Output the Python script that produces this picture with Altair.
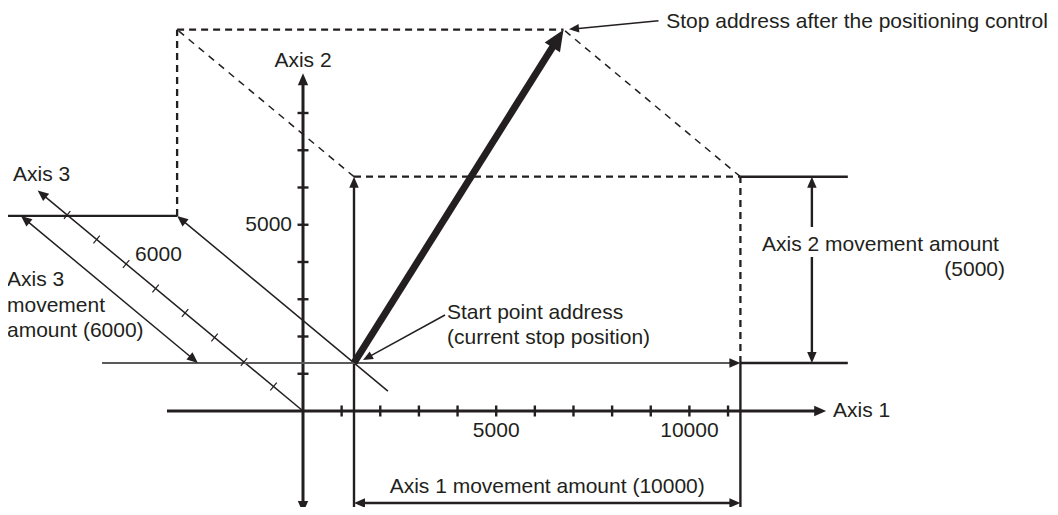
import math
import altair as alt
import pandas as pd

# ---------------- diagram values (axis units) ----------------
AXIS1_TICKS = [1000, 2000, 3000, 4000, 5000, 6000, 7000, 8000, 9000, 10000, 11000]
AXIS1_TICK_LABELS = [5000, 10000]
AXIS2_TICKS = [1000, 2000, 3000, 4000, 5000, 6000, 7000, 8000]
AXIS2_TICK_LABELS = [5000]
AXIS3_TICKS = [1000, 2000, 3000, 4000, 5000, 6000, 7000, 8000]
AXIS3_TICK_LABELS = [6000]

START_ADDRESS = [1320, 1290, 0]          # axis 1, axis 2, axis 3
MOVEMENT_AMOUNT = [10000, 5000, 6000]    # axis 1, axis 2, axis 3

AXIS1_EXTENT = [-3520, 13540]
AXIS2_EXTENT = [-2740, 9070]
AXIS3_EXTENT = [0, 9000]
START_DIAG_BACK = -1150        # axis-3 extension of the start diagonal below the start point
GUIDE_LEFT = -5200             # left end of the start-level guide line (axis 1 units)
BACK_GUIDE_LEFT = -3080        # left end of the axis-3 end-level guide line
DIM1_LEVEL = -2470             # axis 2 level of the axis-1 dimension arrow
DIM2_POS = 13170               # axis 1 position of the axis-2 dimension arrow
DIM2_GAP = [4134, 4940]        # gap in the axis-2 dimension arrow for its label
DIM2_GUIDE_END = 14100         # right end of the axis-2 guide lines
DIM3_POS = -2720               # axis 1 position of the axis-3 dimension arrow
BOTTOM = -2900

# oblique projection of axis 3 onto the axis1/axis2 plane
OBLIQUE = (-0.763, 0.658)

# labels: text, axis-1 pos, axis-2 pos, align
LABEL_TEXT = ["Axis 1", "Axis 2", "Axis 3", "Axis 3", "movement", "amount (6000)",
              "Start point address", "(current stop position)",
              "Stop address after the positioning control",
              "Axis 2 movement amount", "(5000)", "Axis 1 movement amount (10000)"]
LABEL_U = [13716, 0, -7505, -7660, -7660, -7660, 3727, 3727, 9400, 11879, 18168, 6320]
LABEL_V = [0, 9400, 6336, 3517, 2819, 2148, 2631, 1960, 10443, 4456, 3785, -2040]
LABEL_ALIGN = ["left", "center", "left", "left", "left", "left", "left", "left",
               "left", "left", "right", "center"]

# leader lines (plane coordinates): from text to target
LEADER_START = [(3675, 2577), (1553, 1369)]
LEADER_STOP = [(9200, 10478), (6884, 10247)]

# ---------------- layout / style ----------------
W, H = 1042, 499
X_PX = 0.03864      # px per axis-1 unit
Y_PX = 0.03725      # px per axis-2 unit
ORIGIN = (295, 403)
INK = "#231f20"
GRAY = "#5a5a5a"
FONT = "Liberation Sans"
FS = 21
TRIM = 0.7
HEAD_PATH = "M0,0L-0.43,1L0.43,1Z"

xs = alt.Scale(domain=[-ORIGIN[0] / X_PX, (W - ORIGIN[0]) / X_PX], nice=False, zero=False)
ys = alt.Scale(domain=[(ORIGIN[1] - H) / Y_PX, ORIGIN[1] / Y_PX], nice=False, zero=False)


def proj(a1, a2, a3):
    return (a1 + OBLIQUE[0] * a3, a2 + OBLIQUE[1] * a3)


seg_rows, head_rows = [], []


def seg(p, q, style, h1=0, h2=0):
    u1, v1 = proj(*p)
    u2, v2 = proj(*q)
    dxp = (u2 - u1) * X_PX
    dyp = -(v2 - v1) * Y_PX
    L = math.hypot(dxp, dyp)
    ux, uy = dxp / L, dyp / L
    ang = math.degrees(math.atan2(ux, -uy)) % 360
    if h2:
        head_rows.append(dict(u=u2, v=v2, ang=ang, size=(2 * h2) ** 2))
        t = h2 * TRIM
        u2 -= t * ux / X_PX
        v2 += t * uy / Y_PX
    if h1:
        head_rows.append(dict(u=u1, v=v1, ang=(ang + 180) % 360, size=(2 * h1) ** 2))
        t = h1 * TRIM
        u1 += t * ux / X_PX
        v1 -= t * uy / Y_PX
    seg_rows.append(dict(u=u1, v=v1, u2=u2, v2=v2, style=style))


s1, s2, s3 = START_ADDRESS
e1, e2, e3 = (START_ADDRESS[i] + MOVEMENT_AMOUNT[i] for i in range(3))

# axes
seg((AXIS1_EXTENT[0], 0, 0), (AXIS1_EXTENT[1], 0, 0), "axis", h2=12)
seg((0, AXIS2_EXTENT[0], 0), (0, AXIS2_EXTENT[1], 0), "axis", h1=12, h2=12)
seg((0, 0, AXIS3_EXTENT[0]), (0, 0, AXIS3_EXTENT[1]), "thin", h2=11)
# start level guide with axis-1 movement arrow
seg((GUIDE_LEFT, s2, 0), (e1, s2, 0), "gray", h2=11)
# axis-2 dimension (split around its label)
seg((e1, s2, 0), (DIM2_GUIDE_END, s2, 0), "solid")
seg((e1, e2, 0), (DIM2_GUIDE_END, e2, 0), "solid")
seg((DIM2_POS, DIM2_GAP[1], 0), (DIM2_POS, e2, 0), "solid", h2=11)
seg((DIM2_POS, DIM2_GAP[0], 0), (DIM2_POS, s2, 0), "solid", h2=11)
# verticals
seg((e1, BOTTOM, 0), (e1, s2, 0), "solid")
seg((e1, s2, 0), (e1, e2, 0), "dash")
seg((s1, BOTTOM, 0), (s1, e2, 0), "solid", h2=11)
# axis-1 dimension
seg((s1, DIM1_LEVEL, 0), (e1, DIM1_LEVEL, 0), "solid", h1=11, h2=11)
# box
seg((s1, e2, 0), (e1, e2, 0), "dash")
seg((s1, e2, e3), (e1, e2, e3), "dash")
seg((s1, s2, e3), (s1, e2, e3), "dash")
seg((s1, e2, 0), (s1, e2, e3), "dash_thin")
seg((e1, e2, 0), (e1, e2, e3), "dash_thin")
# start diagonal (axis-3 movement)
seg((s1, s2, START_DIAG_BACK), (s1, s2, e3), "thin", h2=11)
seg((BACK_GUIDE_LEFT, s2, e3), (s1, s2, e3), "solid")
# axis-3 dimension
seg((DIM3_POS, s2, 0), (DIM3_POS, s2, e3), "thin", h1=11, h2=11)
# composite movement
seg((s1, s2, s3), (e1, e2, e3), "thick", h2=21)
# leaders
seg((*LEADER_START[0], 0), (*LEADER_START[1], 0), "leader", h2=10)
seg((*LEADER_STOP[0], 0), (*LEADER_STOP[1], 0), "leader", h2=10)

seg_df = pd.DataFrame(seg_rows)
head_df = pd.DataFrame(head_rows)

STYLES = {
    "axis": (INK, 3.0, None),
    "solid": (INK, 2.4, None),
    "thin": (INK, 1.5, None),
    "gray": (GRAY, 2.0, None),
    "dash": (INK, 2.3, [7, 5]),
    "dash_thin": (INK, 1.5, [7, 6]),
    "thick": (INK, 7.0, None),
    "leader": (INK, 1.5, None),
}


def X(f="u"):
    return alt.X(f"{f}:Q", scale=xs, axis=None)


def Y(f="v"):
    return alt.Y(f"{f}:Q", scale=ys, axis=None)


layers = []
for st, (col, w, dash) in STYLES.items():
    kw = dict(color=col, strokeWidth=w)
    if dash:
        kw["strokeDash"] = dash
    layers.append(
        alt.Chart(seg_df).transform_filter(alt.datum.style == st)
        .mark_rule(**kw).encode(x=X(), y=Y(), x2="u2:Q", y2="v2:Q")
    )

layers.append(
    alt.Chart(head_df).mark_point(shape=HEAD_PATH, filled=True, opacity=1, color=INK, strokeWidth=0)
    .encode(x=X(), y=Y(), angle=alt.Angle("ang:Q", scale=None), size=alt.Size("size:Q", scale=None))
)

# ticks
ax_ticks = [dict(u=a, v=0, ang=90) for a in AXIS1_TICKS] + [dict(u=0, v=a, ang=0) for a in AXIS2_TICKS]
d3x, d3y = OBLIQUE[0] * X_PX, -OBLIQUE[1] * Y_PX
ang3 = math.degrees(math.atan2(d3x, -d3y)) % 360
ax3_ticks = [dict(u=proj(0, 0, a)[0], v=proj(0, 0, a)[1], ang=ang3) for a in AXIS3_TICKS]
layers.append(
    alt.Chart(pd.DataFrame(ax_ticks)).mark_point(shape="stroke", size=121, opacity=1, color=INK, strokeWidth=2.4)
    .encode(x=X(), y=Y(), angle=alt.Angle("ang:Q", scale=None))
)
layers.append(
    alt.Chart(pd.DataFrame(ax3_ticks)).mark_point(shape="stroke", size=100, opacity=1, color=INK, strokeWidth=1.2)
    .encode(x=X(), y=Y(), angle=alt.Angle("ang:Q", scale=None))
)

# tick labels
tl1 = pd.DataFrame(dict(u=AXIS1_TICK_LABELS, v=[0] * len(AXIS1_TICK_LABELS), t=[str(a) for a in AXIS1_TICK_LABELS]))
tl2 = pd.DataFrame(dict(u=[0] * len(AXIS2_TICK_LABELS), v=AXIS2_TICK_LABELS, t=[str(a) for a in AXIS2_TICK_LABELS]))
tl3 = pd.DataFrame(dict(u=[proj(0, 0, a)[0] for a in AXIS3_TICK_LABELS],
                        v=[proj(0, 0, a)[1] for a in AXIS3_TICK_LABELS],
                        t=[str(a) for a in AXIS3_TICK_LABELS]))
tkw = dict(font=FONT, fontSize=FS, color=INK, baseline="middle")
layers.append(alt.Chart(tl1).mark_text(align="center", dy=20, **tkw).encode(x=X(), y=Y(), text="t:N"))
layers.append(alt.Chart(tl2).mark_text(align="right", dx=-11, **tkw).encode(x=X(), y=Y(), text="t:N"))
layers.append(alt.Chart(tl3).mark_text(align="left", dx=9, dy=-9, **tkw).encode(x=X(), y=Y(), text="t:N"))

lab_df = pd.DataFrame(dict(t=LABEL_TEXT, u=LABEL_U, v=LABEL_V, al=LABEL_ALIGN))
for al in ["left", "center", "right"]:
    layers.append(
        alt.Chart(lab_df).transform_filter(alt.datum.al == al)
        .mark_text(align=al, **tkw).encode(x=X(), y=Y(), text="t:N")
    )

chart = (
    alt.layer(*layers)
    .properties(width=W, height=H, padding=0, autosize=alt.AutoSizeParams(type="none"), background="white")
    .configure_view(stroke="transparent")
)
chart.save("out.html", embed_options={"renderer": "svg", "actions": False})
